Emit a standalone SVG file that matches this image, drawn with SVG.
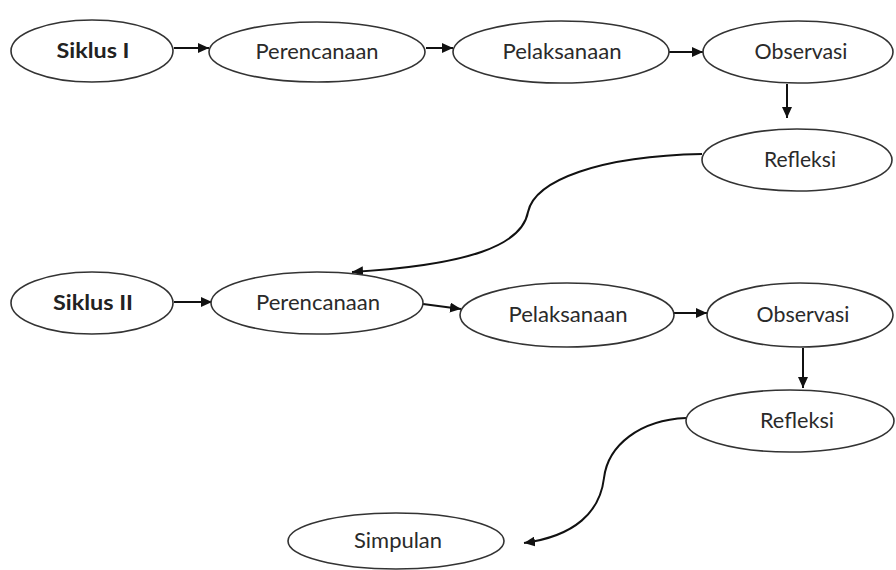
<svg xmlns="http://www.w3.org/2000/svg" width="896" height="570" viewBox="0 0 896 570">
  <defs>
    <marker id="arrow" markerUnits="userSpaceOnUse" markerWidth="12" markerHeight="10" refX="11" refY="5" orient="auto">
      <path d="M0,0 L11,5 L0,10 Z" fill="#111"/>
    </marker>
    <style>
      .node ellipse { fill: #fff; stroke: #333; stroke-width: 1.6; }
      .node text { font-family: Lato, "Open Sans", "Liberation Sans", sans-serif; font-size: 21px; fill: #2a2a2a; text-anchor: middle; }
      .node text.bold { font-weight: bold; fill: #222; }
      .edges path { fill: none; stroke: #111; stroke-width: 2; marker-end: url(#arrow); }
    </style>
  </defs>
  <rect width="896" height="570" fill="#fff"/>

  <!-- connectors -->
  <g class="edges">
    <path d="M174,48 L209,48"/>
    <path d="M426,48 L453,48"/>
    <path d="M669,52 L703,52"/>
    <path d="M787,84 L787,118"/>
    <path d="M702,154 C600,156 535,180 528,212 C522,245 470,265 352,272"/>
    <path d="M174,302 L212,302"/>
    <path d="M423,304 L461,309"/>
    <path d="M674,313 L707,313"/>
    <path d="M803,348 L803,388"/>
    <path d="M686,418 C640,420 608,445 604,478 C600,512 575,536 524,543"/>
  </g>

  <!-- cycle I -->
  <g id="siklus1" class="node">
    <ellipse cx="92" cy="51" rx="81" ry="31"/>
    <text class="bold" x="93" y="58" textLength="73" lengthAdjust="spacingAndGlyphs">Siklus I</text>
  </g>
  <g id="perencanaan1" class="node">
    <ellipse cx="317" cy="52" rx="108" ry="30"/>
    <text x="317" y="59" textLength="123" lengthAdjust="spacingAndGlyphs">Perencanaan</text>
  </g>
  <g id="pelaksanaan1" class="node">
    <ellipse cx="561" cy="52" rx="108" ry="31"/>
    <text x="562" y="59" textLength="119" lengthAdjust="spacingAndGlyphs">Pelaksanaan</text>
  </g>
  <g id="observasi1" class="node">
    <ellipse cx="798" cy="52" rx="95" ry="31"/>
    <text x="801" y="59" textLength="93" lengthAdjust="spacingAndGlyphs">Observasi</text>
  </g>
  <g id="refleksi1" class="node">
    <ellipse cx="797" cy="160" rx="95" ry="31"/>
    <text x="800" y="167" textLength="72" lengthAdjust="spacingAndGlyphs">Refleksi</text>
  </g>

  <!-- cycle II -->
  <g id="siklus2" class="node">
    <ellipse cx="92" cy="303" rx="81" ry="31"/>
    <text class="bold" x="93" y="310" textLength="80" lengthAdjust="spacingAndGlyphs">Siklus II</text>
  </g>
  <g id="perencanaan2" class="node">
    <ellipse cx="317" cy="303" rx="106" ry="31"/>
    <text x="318" y="310" textLength="124" lengthAdjust="spacingAndGlyphs">Perencanaan</text>
  </g>
  <g id="pelaksanaan2" class="node">
    <ellipse cx="567" cy="315" rx="107" ry="32"/>
    <text x="568" y="322" textLength="119" lengthAdjust="spacingAndGlyphs">Pelaksanaan</text>
  </g>
  <g id="observasi2" class="node">
    <ellipse cx="800" cy="315" rx="93" ry="32"/>
    <text x="803" y="322" textLength="93" lengthAdjust="spacingAndGlyphs">Observasi</text>
  </g>
  <g id="refleksi2" class="node">
    <ellipse cx="790" cy="421" rx="104" ry="31"/>
    <text x="797" y="428" textLength="74" lengthAdjust="spacingAndGlyphs">Refleksi</text>
  </g>
  <g id="simpulan" class="node">
    <ellipse cx="396" cy="541" rx="108" ry="28"/>
    <text x="398" y="548" textLength="88" lengthAdjust="spacingAndGlyphs">Simpulan</text>
  </g>
</svg>
